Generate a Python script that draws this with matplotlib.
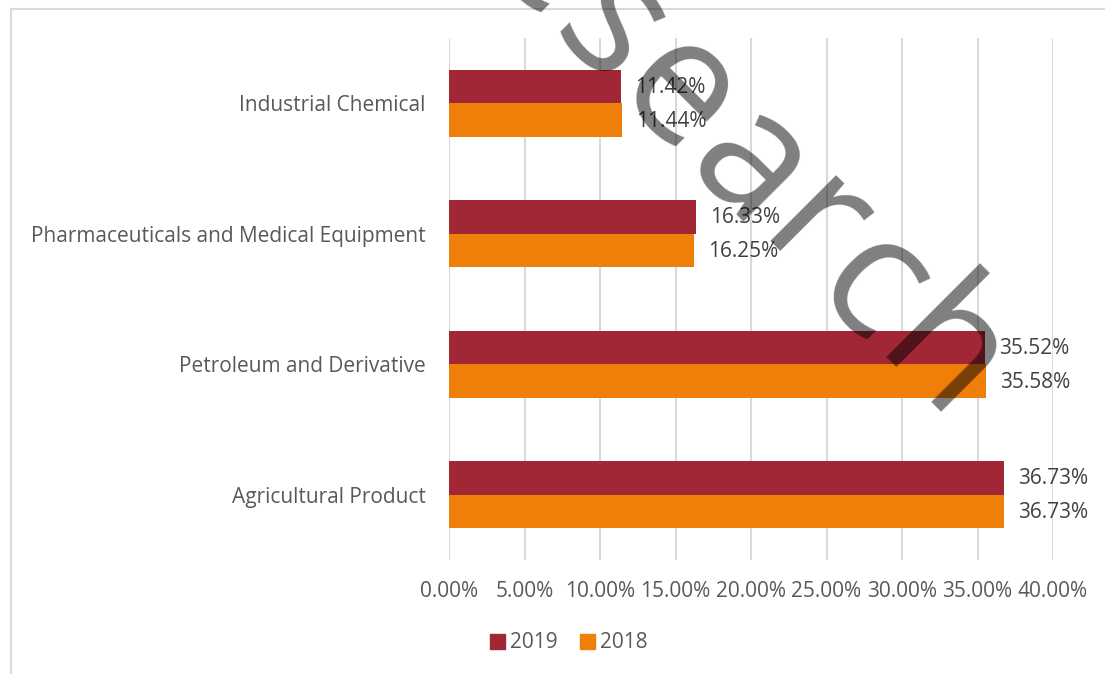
import matplotlib
matplotlib.use("Agg")
import matplotlib.pyplot as plt
from matplotlib.patches import Rectangle, Patch
from matplotlib.font_manager import FontProperties
from matplotlib.textpath import TextToPath
import numpy as np

categories = ["Agricultural Product", "Petroleum and Derivative",
              "Pharmaceuticals and Medical Equipment", "Industrial Chemical"]
values_2019 = [36.73, 35.52, 16.33, 11.42]
values_2018 = [36.73, 35.58, 16.25, 11.44]
series_names = ["2019", "2018"]
xticks = [0, 5, 10, 15, 20, 25, 30, 35, 40]

c2019 = "#A12736"
c2018 = "#F07F09"
txt = "#595959"
grid = "#D9D9D9"
font = "Open Sans"
fs = 15

W, H = 1105, 674
fig = plt.figure(figsize=(W / 100, H / 100), dpi=100)
ax = fig.add_axes([449 / W, 1 - 560 / H, (1053 - 449) / W, (560 - 38) / H])

y = np.arange(len(categories))
h = 0.258
ax.barh(y + h / 2, values_2019, height=h, color=c2019, zorder=2)
ax.barh(y - h / 2, values_2018, height=h, color=c2018, zorder=2)

for yi, v in zip(y, values_2019):
    ax.annotate(f"{v:.2f}%", (v, yi + h / 2), xytext=(14, -1), textcoords="offset pixels",
                va="center", ha="left", fontsize=fs, color="#404040", family=font, zorder=3)
for yi, v in zip(y, values_2018):
    ax.annotate(f"{v:.2f}%", (v, yi - h / 2), xytext=(14, -1), textcoords="offset pixels",
                va="center", ha="left", fontsize=fs, color="#404040", family=font, zorder=3)

ax.set_xlim(0, 40)
ax.set_ylim(-0.5, 3.5)
ax.set_xticks(xticks)
ax.set_xticklabels([f"{t:.2f}%" for t in xticks], family=font, fontsize=fs, color=txt)
ax.set_yticks(y)
ax.set_yticklabels(categories, family=font, fontsize=fs, color=txt)
ax.tick_params(length=0)
ax.tick_params(axis="x", pad=15)
ax.tick_params(axis="y", pad=17)
ax.grid(axis="x", color=grid, lw=1.5, zorder=0)
for s in ax.spines.values():
    s.set_visible(False)

# chart frame
fig.patches.append(Rectangle((11 / W, -0.1), 1.2, 1 - 9 / H + 0.1, transform=fig.transFigure,
                             fill=False, edgecolor=grid, lw=1.5))

handles = [Patch(color=c2019), Patch(color=c2018)]
fig.legend(handles, series_names, loc="center", bbox_to_anchor=(569 / W, 1 - 643 / H),
           ncol=2, frameon=False, handlelength=0.7, handleheight=0.7, handletextpad=0.25,
           columnspacing=1.1, prop={"family": font, "size": fs}, labelcolor=txt)

# watermark: letters placed along a 45-degree baseline
wm_word = "Research"
wm_size = 125
wm_prop = FontProperties(family="Open Sans", size=wm_size)
ttp = TextToPath()
adv = []
for ch in wm_word:
    w_, h_, d_ = ttp.get_text_width_height_descent(ch, wm_prop, ismath=False)
    adv.append(w_ * 100 / 72)
track = 5.0
centers = []
pos = 0.0
for a in adv:
    centers.append(pos + a / 2)
    pos += a + track
ref_idx = 6  # 'c'
ref_pt = np.array([837.0, 323.0])  # baseline centre of that letter in pixels (from top-left)
dvec = np.array([np.sqrt(0.5), np.sqrt(0.5)])
for ch, c in zip(wm_word, centers):
    p = ref_pt + dvec * (c - centers[ref_idx])
    fig.text(p[0] / W, 1 - p[1] / H, ch, rotation=-45, rotation_mode="anchor",
             ha="center", va="baseline", fontproperties=wm_prop, color="black",
             alpha=0.5, zorder=10)

fig.savefig("out.png", dpi=100)
